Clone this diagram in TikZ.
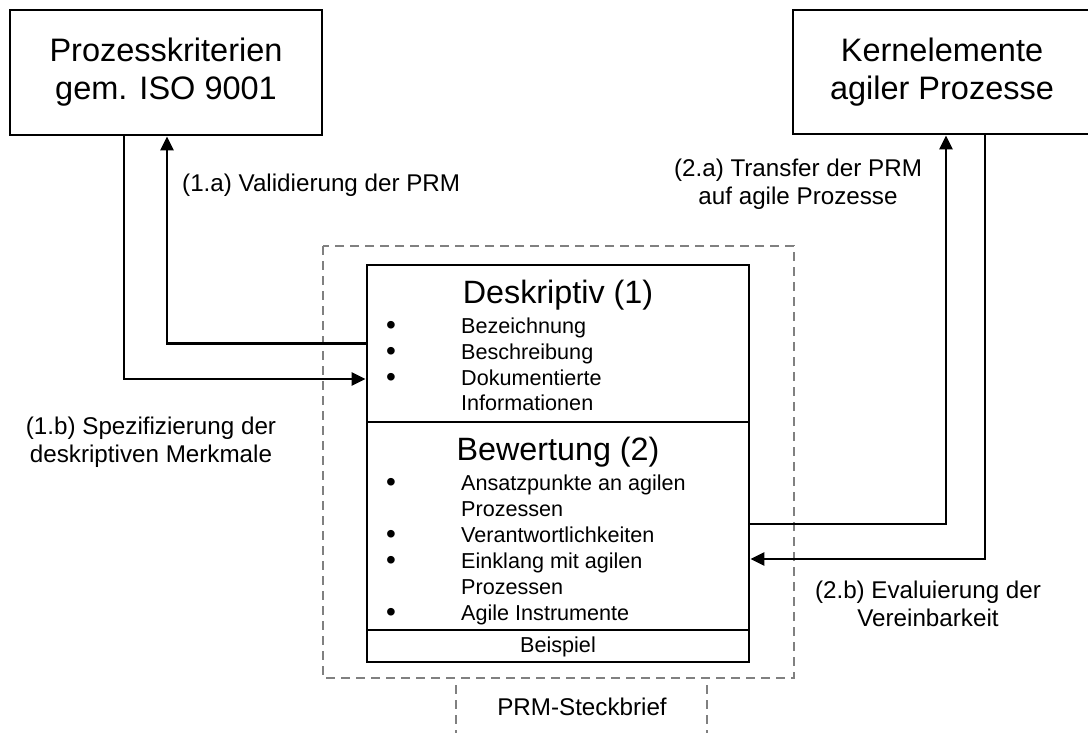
\documentclass[tikz,border=0pt]{standalone}
\usepackage{fontspec}
\setmainfont{Liberation Sans}
\usetikzlibrary{arrows.meta}
\tikzset{
  bigbox/.style={draw=black, line width=2.8pt, minimum width=#1, inner sep=0pt, align=center,
    font=\fontsize{32.5}{38}\selectfont},
  part/.style={draw=black, line width=2.8pt, minimum width=382pt, inner sep=0pt},
  ttl/.style={inner sep=0pt, font=\fontsize{32.3}{38}\selectfont},
  itm/.style={anchor=west, inner sep=0pt, font=\fontsize{21.6}{25}\selectfont, text height=15.5pt, text depth=4.5pt},
  bul/.style={inner sep=0pt, font=\fontsize{28}{25}\selectfont},
  txt/.style={inner sep=0pt, font=\fontsize{21.6}{25}\selectfont},
  lbl/.style={inner sep=0pt, align=center, font=\fontsize{24.2}{28}\selectfont},
  arr/.style={draw=black, line width=2.4pt, -{Triangle[length=14pt,width=13pt]}},
  dsh/.style={draw=black!50, line width=2.2pt, dash pattern=on 9pt off 6pt}
}
\begin{document}
\begin{tikzpicture}[x=1pt,y=-1pt]
\useasboundingbox (0,0) rectangle (1088,733);
% top boxes
\node[bigbox=312pt, minimum height=125pt] (A) at (166,72.5) {Prozesskriterien\\gem. ISO 9001};
\node[bigbox=298pt, minimum height=124pt] (K) at (942,72) {Kernelemente\\agiler Prozesse};
% dashed frame
\draw[dsh] (323,246) rectangle (794,678);
% inner parts
\node[part, minimum height=157pt] (D) at (558,343.5) {};
\node[part, minimum height=208pt] (B) at (558,526) {};
\node[part, minimum height=32pt] (E) at (558,646) {};
% Deskriptiv
\node[ttl] (dt) at (558,295) {Deskriptiv (1)};
\node[bul] (db1) at (391,328) {•};
\node[bul] (db2) at (391,354) {•};
\node[bul] (db3) at (391,380) {•};
\node[itm] (d1) at (461,328) {Bezeichnung};
\node[itm] (d2) at (461,354) {Beschreibung};
\node[itm] (d3) at (461,380) {Dokumentierte};
\node[itm] (d4) at (461,405) {Informationen};
% Bewertung
\node[ttl] (bt) at (558,452) {Bewertung (2)};
\node[bul] (bb1) at (391,485) {•};
\node[bul] (bb2) at (391,537) {•};
\node[bul] (bb3) at (391,563) {•};
\node[bul] (bb4) at (391,615) {•};
\node[itm] (b1) at (461,485) {Ansatzpunkte an agilen};
\node[itm] (b2) at (461,511) {Prozessen};
\node[itm] (b3) at (461,537) {Verantwortlichkeiten};
\node[itm] (b4) at (461,563) {Einklang mit agilen};
\node[itm] (b5) at (461,589) {Prozessen};
\node[itm] (b6) at (461,615) {Agile Instrumente};
% Beispiel
\node[txt] (et) at (558,647) {Beispiel};
% PRM-Steckbrief
\node[lbl] (P) at (582,707) {PRM-Steckbrief};
\coordinate (p1) at (456,685);
\coordinate (p2) at (707,685);
\draw[dsh] (p1) -- (p1 |- 0,740);
\draw[dsh] (p2) -- (p2 |- 0,740);
% connectors
\draw[arr] (D.west) -| (A.south -| 167,0);
\draw[arr] (A.south -| 124,0) |- (D.west |- 0,379);
\draw[arr] (B.east |- 0,524) -| (K.south -| 946,0);
\draw[arr] (K.south -| 985,0) |- (B.east |- 0,559);
% labels
\node[lbl, anchor=west] (l1a) at (182,185) {(1.a) Validierung der PRM};
\node[lbl] (l1b) at (151,442) {(1.b) Spezifizierung der\\deskriptiven Merkmale};
\node[lbl] (l2a) at (798,184) {(2.a) Transfer der PRM\\auf agile Prozesse};
\node[lbl] (l2b) at (928,604) {(2.b) Evaluierung der\\Vereinbarkeit};
\end{tikzpicture}
\end{document}
